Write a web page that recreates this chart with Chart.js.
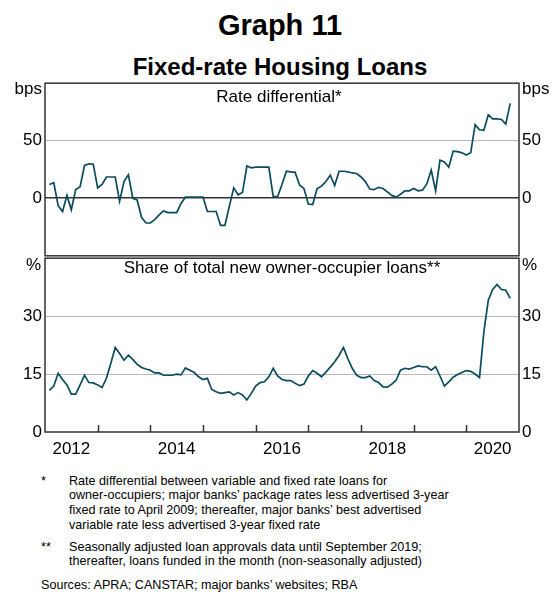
<!DOCTYPE html>
<html>
<head>
<meta charset="utf-8">
<script src="https://cdn.jsdelivr.net/npm/chart.js@4.4.1/dist/chart.umd.min.js"></script>
<style>
body { margin: 0; background: #fff; font-family: Arial, "Liberation Sans", sans-serif; color: #000; }
#wrap { position: relative; width: 560px; height: 592px; overflow: hidden; }
canvas { position: absolute; left: 0; }
.t { position: absolute; white-space: nowrap; line-height: 1; }
.note { position: absolute; font-size: 12.6px; line-height: 14.8px; }
</style>
</head>
<body>
<div id="wrap">
  <div class="t" style="left:0;width:560px;text-align:center;top:10.5px;font-size:29px;font-weight:bold;">Graph 11</div>
  <div class="t" style="left:0;width:560px;text-align:center;top:54.7px;font-size:24px;font-weight:bold;">Fixed-rate Housing Loans</div>

  <canvas id="topChart" width="560" height="199" style="top:70px"></canvas>
  <canvas id="botChart" width="560" height="217" style="top:245px"></canvas>

  <div class="t" style="left:0;width:42px;text-align:right;top:80px;font-size:17px;">bps</div>
  <div class="t" style="left:522px;top:80px;font-size:17px;">bps</div>
  <div class="t" style="left:0;width:560px;text-align:center;padding-right:2px;box-sizing:border-box;top:88px;font-size:17px;">Rate differential*</div>

  <div class="t" style="left:0;width:41px;text-align:right;top:256px;font-size:17px;">%</div>
  <div class="t" style="left:522px;top:256px;font-size:17px;">%</div>
  <div class="t" style="left:0;width:564px;text-align:center;top:259px;font-size:17px;">Share of total new owner-occupier loans**</div>

  <div class="note" style="left:41px;top:473.7px;">*</div>
  <div class="note" style="left:69px;top:473.7px;">Rate differential between variable and fixed rate loans for<br>owner-occupiers; major banks’ package rates less advertised 3-year<br>fixed rate to April 2009; thereafter, major banks’ best advertised<br>variable rate less advertised 3-year fixed rate</div>
  <div class="note" style="left:41px;top:539.7px;">**</div>
  <div class="note" style="left:69px;top:539.7px;">Seasonally adjusted loan approvals data until September 2019;<br>thereafter, loans funded in the month (non-seasonally adjusted)</div>
  <div class="note" style="left:41px;top:577.7px;">Sources: APRA; CANSTAR; major banks’ websites; RBA</div>
</div>

<script>
// months counted from Jan 2012 (0) to Jan 2021 (108)
const firstMonth = 1;          // Feb 2012
const monthsMax = 108;

// rate differential, bps, Feb 2012 - Dec 2020
const rateDiff = [
  12, 13.5, -6.5, -11.5, 2.5, -10, 7.5, 10, 28.5, 30, 29.5,
  9, 12, 18.5, 18.5, 18.5, -2.5, 14.5, 20.5, 0, -1.5, -16.5, -21.5,
  -21.5, -18.5, -14.5, -11, -12.5, -12.5, -12.5, -4.5, 1, 1, 1, 1,
  1, -11.5, -11.5, -11.5, -23.5, -23.5, -7, 9, 3, 5, 28, 26.5,
  27, 27, 27, 27, 1.5, 1.5, 12, 23.5, 23, 22.5, 11.5, 8.5,
  -5, -5.5, 8.5, 10.5, 14.5, 20, 11, 23.5, 23.5, 23, 22, 21.5,
  18.5, 14.5, 8, 7.5, 9.5, 8.5, 5.5, 2.5, 1, 3.5, 6.5, 6.5,
  8.5, 6.5, 7, 12.5, 24.5, 6.5, 33, 31.5, 27, 41, 40.5, 39.5,
  37.5, 39.5, 64, 59.5, 59, 72.5, 69, 69, 68.5, 64.5, 82.5
];

// share of new owner-occupier loans, %, Feb 2012 - Nov 2020
const fixedShare = [
  10.8, 11.9, 15.2, 13.6, 12.2, 9.8, 9.8, 12.2, 14.7, 12.8, 12.7,
  12.2, 11.5, 13.9, 17.8, 21.9, 20.3, 18.6, 19.9, 18.8, 17.5, 16.7, 16.3,
  16, 15.3, 15.3, 14.7, 14.7, 14.7, 15, 14.8, 16.6, 16, 15.4, 14.3,
  13.6, 13.9, 11, 10.4, 10, 10.2, 10.4, 9.6, 10.2, 9.6, 8.3, 10,
  11.9, 12.8, 13, 14.3, 16.5, 14.5, 13.6, 13.3, 13.3, 12.6, 12, 12.4,
  14.5, 15.9, 15.2, 14.3, 15.5, 16.8, 18.2, 19.8, 21.9, 19, 16.5, 14.7,
  14.1, 14.1, 14.5, 13.3, 12.8, 11.7, 11.6, 12.4, 13.4, 16, 16.5, 16.3,
  16.7, 17.1, 16.9, 16.9, 16, 16.9, 14.5, 11.9, 13, 14.2, 14.9, 15.4,
  15.9, 15.7, 15, 14.1, 26, 34.1, 36.9, 38.2, 36.9, 36.7, 34.6
];

const yearLabels = ['2012', '2014', '2016', '2018', '2020'];
const yearLabelPos = [6, 30, 54, 78, 102];
const yearTickPos = [12, 24, 36, 48, 60, 72, 84, 96];

const topRange = [-50, 100];
const topGrid = [-50, 0, 50, 100];
const topLabels = [0, 50];
const botRange = [0, 45];
const botGrid = [0, 15, 30, 45];
const botLabels = [0, 15, 30];

const lineColor = '#0b4b5e';
const frameColor = '#333333';
const gridGrey = '#b9b9b9';
const font = { family: 'Arial, "Liberation Sans", sans-serif', size: 17 };

function toPoints(values) {
  return values.map((v, i) => ({ x: firstMonth + i, y: v }));
}

// frame round the plot area, plus the inward year ticks on the bottom panel
const framePlugin = {
  id: 'framePlugin',
  afterDraw(chart, args, opts) {
    const { ctx, chartArea: a } = chart;
    ctx.save();
    ctx.strokeStyle = frameColor;
    ctx.lineWidth = 1.5;
    if (opts.yearTicks) {
      const xs = chart.scales.x;
      yearTickPos.forEach(m => {
        const px = Math.round(xs.getPixelForValue(m)) + 0.5;
        ctx.beginPath();
        ctx.moveTo(px, a.bottom);
        ctx.lineTo(px, a.bottom - 7);
        ctx.stroke();
      });
    }
    ctx.strokeRect(a.left, a.top, a.right - a.left, a.bottom - a.top);
    ctx.restore();
  }
};

function yAxis(pos, range, grid, labels, zeroDark, showGrid) {
  return {
    position: pos,
    min: range[0],
    max: range[1],
    afterBuildTicks: s => { s.ticks = grid.map(v => ({ value: v })); },
    afterFit: s => { s.width = pos === 'left' ? 45 : 41; },
    border: { display: false },
    grid: {
      display: showGrid,
      drawTicks: false,
      color: c => {
        const v = c.tick.value;
        if (v === range[0] || v === range[1]) return 'rgba(0,0,0,0)';
        if (v === 0 && zeroDark) return frameColor;
        return gridGrey;
      },
      lineWidth: c => (c.tick.value === 0 && zeroDark ? 1.6 : 1)
    },
    ticks: {
      color: '#000',
      font: font,
      padding: 3,
      callback: v => (labels.includes(v) ? String(v) : '')
    }
  };
}

function makeChart(id, values, yL, yR, showX, extra) {
  return new Chart(document.getElementById(id), {
    type: 'line',
    data: {
      datasets: [{
        data: toPoints(values),
        borderColor: lineColor,
        borderWidth: 1.7,
        pointRadius: 0,
        tension: 0,
        yAxisID: 'y'
      }, {
        data: [],
        yAxisID: 'yr'
      }]
    },
    options: {
      responsive: false,
      animation: false,
      devicePixelRatio: 1,
      layout: { padding: { top: 12, bottom: showX ? 0 : 12, left: 0, right: 0 } },
      plugins: {
        legend: { display: false },
        tooltip: { enabled: false },
        framePlugin: extra
      },
      scales: {
        x: {
          type: 'linear',
          min: 0,
          max: monthsMax,
          display: showX,
          afterBuildTicks: s => { s.ticks = yearLabelPos.map(v => ({ value: v })); },
          afterFit: s => { s.height = showX ? 30 : 0; },
          border: { display: false },
          grid: { display: false, drawTicks: false },
          ticks: {
            color: '#000',
            font: font,
            padding: 7,
            maxRotation: 0,
            callback: v => yearLabels[yearLabelPos.indexOf(v)] || ''
          }
        },
        y: yL,
        yr: yR
      }
    },
    plugins: [framePlugin]
  });
}

makeChart('topChart', rateDiff,
  yAxis('left', topRange, topGrid, topLabels, true, true),
  yAxis('right', topRange, topGrid, topLabels, true, false),
  false, { yearTicks: false });

makeChart('botChart', fixedShare,
  yAxis('left', botRange, botGrid, botLabels, false, true),
  yAxis('right', botRange, botGrid, botLabels, false, false),
  true, { yearTicks: true });
</script>
</body>
</html>
